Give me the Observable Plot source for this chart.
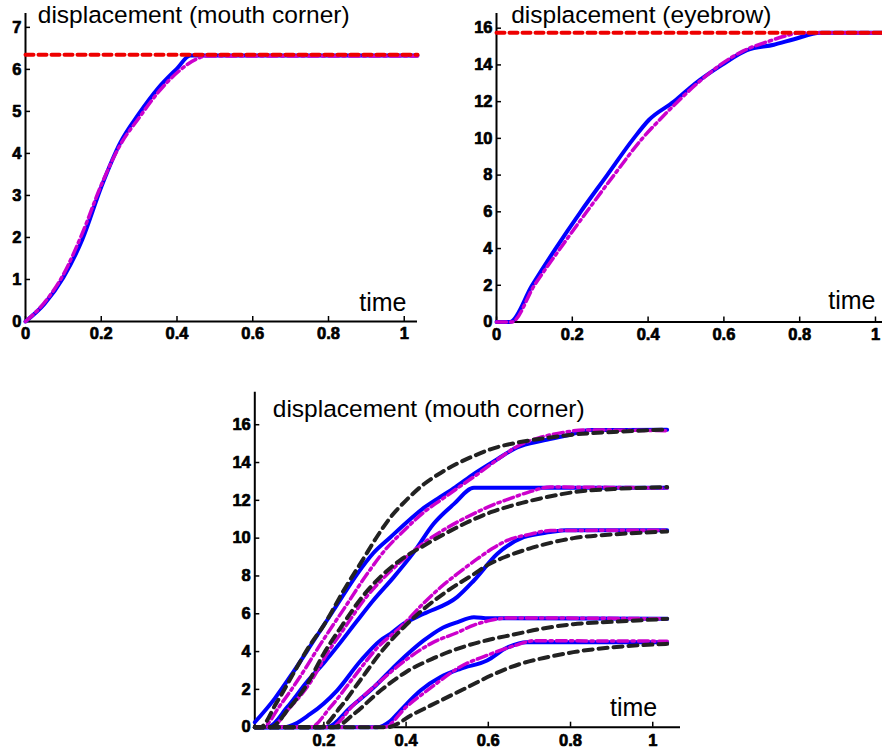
<!DOCTYPE html>
<html>
<head>
<meta charset="utf-8">
<script src="https://cdn.jsdelivr.net/npm/d3@7"></script>
<script src="https://cdn.jsdelivr.net/npm/@observablehq/plot@0.6"></script>
<style>
  html, body { margin: 0; padding: 0; background: #fff; }
  body { width: 882px; height: 756px; position: relative; overflow: hidden; font-family: "Liberation Sans", Arial, sans-serif; }
  .panel { position: absolute; }
  .panel svg { overflow: visible; }
</style>
</head>
<body>
<div id="pA" class="panel" style="left:0px;top:0px"></div>
<div id="pB" class="panel" style="left:460px;top:0px"></div>
<div id="pC" class="panel" style="left:220px;top:370px"></div>
<script>
// ---------- data: [time, displacement] ----------
// Panel A: displacement (mouth corner)
const mouthBlue = [[0,0],[0.05,0.42],[0.1,1.05],[0.15,1.95],[0.2,3.2],[0.25,4.25],[0.3,4.95],[0.35,5.55],[0.4,6.02],[0.435,6.33],[1.035,6.33]];
const mouthMagenta = [[0,0],[0.05,0.45],[0.1,1.12],[0.15,2.1],[0.2,3.25],[0.25,4.2],[0.3,4.85],[0.35,5.45],[0.4,5.92],[0.45,6.24],[0.48,6.32],[1.035,6.32]];
const mouthTarget = [[0,6.35],[1.035,6.35]];

// Panel B: displacement (eyebrow)
const browBlue = [[0,0],[0.035,0],[0.094,2],[0.156,4],[0.222,6],[0.292,8],[0.362,10],[0.402,11],[0.468,12],[0.525,13],[0.595,14],[0.661,14.8],[0.732,15.1],[0.785,15.4],[0.855,15.75],[1.0185,15.75]];
const browMagenta = [[0,0],[0.04,0],[0.1,2],[0.168,4],[0.238,6],[0.31,8],[0.385,10],[0.43,11],[0.478,12],[0.53,13],[0.59,14],[0.65,14.75],[0.72,15.3],[0.77,15.62],[0.8,15.75],[1.0185,15.75]];
const browTarget = [[0,15.75],[1.0185,15.75]];

// Panel C: five movements, each with blue (solid), magenta (dash-dot), black (dashed)
const g1Blue = [[0.032,0.26],[0.08,1.5],[0.125,2.9],[0.176,4.6],[0.23,6.4],[0.281,8.1],[0.32,9.2],[0.362,10.05],[0.41,11.0],[0.443,11.6],[0.476,12.08],[0.52,12.7],[0.565,13.4],[0.62,14.15],[0.67,14.8],[0.735,15.17],[0.79,15.43],[0.85,15.72],[1.035,15.73]];
const g1Magenta = [[0.032,0],[0.05,0],[0.095,1.2],[0.14,2.6],[0.195,4.5],[0.25,6.3],[0.305,8.1],[0.35,9.4],[0.395,10.4],[0.445,11.4],[0.49,12.1],[0.532,12.75],[0.575,13.4],[0.625,14.2],[0.67,14.85],[0.73,15.35],[0.79,15.62],[0.83,15.72],[1.035,15.68]];
const g1Black = [[0.032,0],[0.045,0],[0.085,1.3],[0.13,3.0],[0.165,4.3],[0.2,5.4],[0.25,7.3],[0.293,8.8],[0.33,10.1],[0.362,11.1],[0.4,12.0],[0.443,12.85],[0.484,13.45],[0.524,13.94],[0.565,14.35],[0.605,14.7],[0.67,15.05],[0.735,15.28],[0.807,15.48],[0.905,15.62],[1.035,15.75]];

const g2Blue = [[0.032,0],[0.066,0.03],[0.111,1.06],[0.159,2.4],[0.2,3.4],[0.241,4.5],[0.28,5.6],[0.32,6.7],[0.37,7.94],[0.419,9.26],[0.467,10.76],[0.516,11.8],[0.565,12.66],[1.035,12.66]];
const g2Magenta = [[0.032,0],[0.07,0],[0.118,1.05],[0.165,2.3],[0.208,3.9],[0.255,5.4],[0.3,6.8],[0.35,8.0],[0.4,9.0],[0.443,9.75],[0.5,10.55],[0.565,11.3],[0.61,11.75],[0.654,12.1],[0.7,12.45],[0.751,12.7],[1.035,12.65]];
const g2Black = [[0.032,0],[0.07,0],[0.115,1.0],[0.16,2.3],[0.2,3.9],[0.245,5.4],[0.29,6.8],[0.34,8.0],[0.39,8.9],[0.443,9.6],[0.5,10.3],[0.565,11.0],[0.61,11.4],[0.654,11.7],[0.727,12.1],[0.807,12.43],[0.905,12.6],[1.035,12.7]];

const g3Blue = [[0.032,0],[0.103,0],[0.167,0.7],[0.232,1.94],[0.289,3.5],[0.338,4.6],[0.362,4.94],[0.394,5.47],[0.443,6.0],[0.524,6.88],[0.565,7.76],[0.622,9.17],[0.686,10.05],[0.751,10.32],[0.79,10.42],[1.035,10.42]];
const g3Magenta = [[0.032,0],[0.167,0],[0.216,1.06],[0.273,2.65],[0.33,4.2],[0.387,5.3],[0.44,6.5],[0.484,7.4],[0.53,8.2],[0.573,8.9],[0.61,9.45],[0.646,9.88],[0.7,10.2],[0.751,10.4],[1.035,10.42]];
const g3Black = [[0.032,0],[0.192,0],[0.24,1.06],[0.289,2.5],[0.34,4.0],[0.395,5.3],[0.44,6.2],[0.5,7.2],[0.565,8.1],[0.6,8.6],[0.646,9.05],[0.7,9.45],[0.751,9.75],[0.807,10.0],[0.905,10.2],[1.035,10.35]];

const g4Blue = [[0.032,0],[0.208,0],[0.265,1.06],[0.321,2.1],[0.378,3.35],[0.443,4.59],[0.484,5.2],[0.524,5.55],[0.565,5.82],[0.6,5.76],[1.035,5.73]];
const g4Magenta = [[0.032,0],[0.216,0],[0.273,1.2],[0.33,2.3],[0.402,3.6],[0.467,4.5],[0.524,5.0],[0.565,5.4],[0.605,5.65],[0.65,5.78],[1.035,5.73]];
const g4Black = [[0.032,0],[0.224,0],[0.273,0.7],[0.338,1.94],[0.402,2.95],[0.467,3.65],[0.532,4.2],[0.597,4.6],[0.662,4.9],[0.727,5.2],[0.807,5.45],[0.905,5.58],[1.035,5.73]];

const g5Blue = [[0.032,0],[0.33,0],[0.36,0.3],[0.386,0.88],[0.435,1.94],[0.484,2.65],[0.532,3.09],[0.597,3.53],[0.645,4.2],[0.694,4.5],[1.035,4.5]];
const g5Magenta = [[0.032,0],[0.346,0],[0.402,1.1],[0.467,2.2],[0.532,3.2],[0.597,3.8],[0.662,4.3],[0.71,4.57],[1.035,4.55]];
const g5Black = [[0.032,0],[0.354,0],[0.418,0.7],[0.484,1.41],[0.548,2.1],[0.613,2.8],[0.678,3.35],[0.743,3.7],[0.807,3.97],[0.905,4.23],[1.035,4.41]];

// tick labels
const ticksX01 = [0, 0.2, 0.4, 0.6, 0.8, 1];
const ticksXC = [0.2, 0.4, 0.6, 0.8, 1];
const ticksYA = [0, 1, 2, 3, 4, 5, 6, 7];
const ticksY16 = [0, 2, 4, 6, 8, 10, 12, 14, 16];

// texts
const titleA = "displacement (mouth corner)";
const titleB = "displacement (eyebrow)";
const titleC = "displacement (mouth corner)";
const xLabel = "time";

// ---------- styles ----------
const BLUE = {stroke: "#0000ff", strokeWidth: 4};
const MAGENTA = {stroke: "#cc00cc", strokeWidth: 3.5, strokeDasharray: "10,4,2.5,4"};
const RED = {stroke: "#ee0000", strokeWidth: 4, strokeDasharray: "8,5"};
const BLACK = {stroke: "#222222", strokeWidth: 4, strokeDasharray: "9,6"};
const TICKFONT = {fontSize: 16.5, fontWeight: 700, fill: "#000", stroke: "#000", strokeWidth: 0.7};

function panel(o) {
  const fh = o.height - o.mT - o.mB;
  const fw = o.width - o.mL - o.mR;
  const tickY = (o.yDom[1] - o.yDom[0]) * 5 / fh;
  const tickX = (o.xDom[1] - o.xDom[0]) * 5 / fw;
  const marks = [
    Plot.ruleY([o.yDom[0]], {stroke: "#000", strokeWidth: 2}),
    Plot.ruleX([o.xDom[0]], {stroke: "#000", strokeWidth: 2}),
    Plot.ruleX(o.xTicks, {x: d => d, y1: o.yDom[0], y2: o.yDom[0] + tickY, stroke: "#000", strokeWidth: 1.5}),
    Plot.ruleY(o.yTicks, {y: d => d, x1: o.xDom[0], x2: o.xDom[0] + tickX, stroke: "#000", strokeWidth: 1.5}),
    Plot.text(o.xTicks, {x: d => d, y: o.yDom[0], text: d => String(d), dy: o.xPad, lineAnchor: "top", textAnchor: "middle", ...TICKFONT}),
    Plot.text(o.yTicks, {x: o.xDom[0], y: d => d, text: d => String(d), dx: -o.yPad, lineAnchor: "middle", textAnchor: "end", ...TICKFONT}),
    ...o.series.map(s => Plot.line(s.data, {x: d => d[0], y: d => d[1], curve: "monotone-x", strokeLinejoin: "round", ...s.style})),
    Plot.text([o.title], {text: d => d, frameAnchor: "top-left", textAnchor: "start", lineAnchor: "bottom", dx: o.tdx, dy: o.tdy, fontSize: 24.5, fontWeight: "normal", fill: "#000"}),
    Plot.text([xLabel], {text: d => d, frameAnchor: "bottom-right", textAnchor: "end", lineAnchor: "bottom", dx: o.ldx, dy: o.ldy, fontSize: 25, fontWeight: "normal", fill: "#000"})
  ];
  const svg = Plot.plot({
    width: o.width, height: o.height,
    marginLeft: o.mL, marginRight: o.mR, marginTop: o.mT, marginBottom: o.mB,
    x: {domain: o.xDom, axis: null},
    y: {domain: o.yDom, axis: null},
    style: {fontFamily: "'Liberation Sans', Arial, sans-serif", background: "transparent", color: "#000"},
    marks
  });
  document.getElementById(o.el).appendChild(svg);
}

panel({
  el: "pA", width: 440, height: 345, mL: 25, mR: 23, mT: 13, mB: 24,
  xDom: [0, 1.035], yDom: [0, 7.33], xTicks: ticksX01, yTicks: ticksYA, xPad: 6, yPad: 4,
  series: [{data: mouthBlue, style: BLUE}, {data: mouthMagenta, style: MAGENTA}, {data: mouthTarget, style: RED}],
  title: titleA, tdx: 12.3, tdy: 9.5, ldx: -11, ldy: -11
});

panel({
  el: "pB", width: 422, height: 345, mL: 36, mR: 0, mT: 13, mB: 23.5,
  xDom: [0, 1.0185], yDom: [0, 16.8], xTicks: ticksX01, yTicks: ticksY16, xPad: 6, yPad: 4,
  series: [{data: browBlue, style: BLUE}, {data: browMagenta, style: MAGENTA}, {data: browTarget, style: RED}],
  title: titleB, tdx: 14.7, tdy: 9.5, ldx: -7, ldy: -13
});

panel({
  el: "pC", width: 470, height: 386, mL: 34.3, mR: 10, mT: 21.7, mB: 29.3,
  xDom: [0.032, 1.0675], yDom: [0, 17.72], xTicks: ticksXC, yTicks: ticksY16, xPad: 7, yPad: 4,
  series: [
    {data: g1Blue, style: BLUE}, {data: g2Blue, style: BLUE}, {data: g3Blue, style: BLUE}, {data: g4Blue, style: BLUE}, {data: g5Blue, style: BLUE},
    {data: g1Magenta, style: MAGENTA}, {data: g2Magenta, style: MAGENTA}, {data: g3Magenta, style: MAGENTA}, {data: g4Magenta, style: MAGENTA}, {data: g5Magenta, style: MAGENTA},
    {data: g1Black, style: BLACK}, {data: g2Black, style: BLACK}, {data: g3Black, style: BLACK}, {data: g4Black, style: BLACK}, {data: g5Black, style: BLACK}
  ],
  title: titleC, tdx: 18, tdy: 25, ldx: -23.3, ldy: -11.7
});
</script>
</body>
</html>
